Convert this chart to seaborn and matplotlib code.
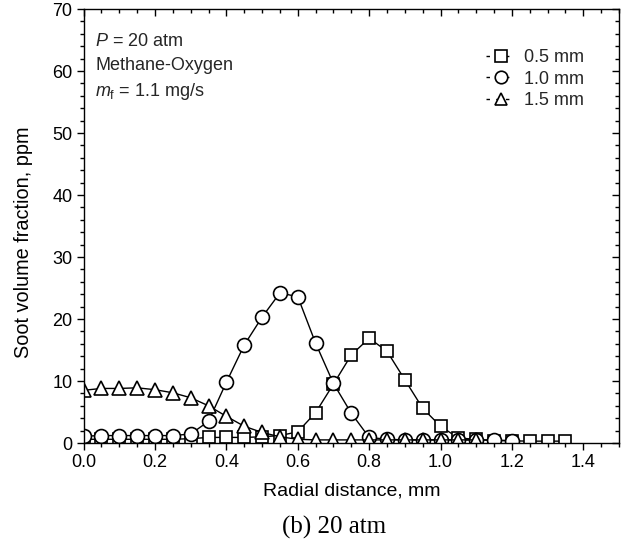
import numpy as np
import pandas as pd
import seaborn as sns
import matplotlib
matplotlib.use("Agg")
import matplotlib.pyplot as plt
from matplotlib.lines import Line2D
from matplotlib.ticker import MultipleLocator

# ---------------- data ----------------
x_05 = [0.00, 0.05, 0.10, 0.15, 0.20, 0.25, 0.30, 0.35, 0.40, 0.45, 0.50, 0.55, 0.60, 0.65,
        0.70, 0.75, 0.80, 0.85, 0.90, 0.95, 1.00, 1.05, 1.10, 1.15, 1.20, 1.25, 1.30, 1.35]
y_05 = [0.6, 0.6, 0.6, 0.6, 0.6, 0.6, 0.7, 0.9, 0.9, 0.9, 1.0, 1.2, 1.8, 4.9,
        9.5, 14.2, 16.9, 14.8, 10.2, 5.6, 2.7, 0.8, 0.6, 0.4, 0.35, 0.3, 0.3, 0.3]

x_10 = [0.00, 0.05, 0.10, 0.15, 0.20, 0.25, 0.30, 0.35, 0.40, 0.45, 0.50, 0.55, 0.60,
        0.65, 0.70, 0.75, 0.80, 0.85, 0.90, 0.95, 1.00, 1.05, 1.10, 1.15, 1.20]
y_10 = [1.1, 1.2, 1.2, 1.2, 1.2, 1.2, 1.45, 3.5, 9.8, 15.8, 20.3, 24.2, 23.6,
        16.1, 9.6, 4.8, 0.9, 0.6, 0.5, 0.5, 0.5, 0.5, 0.5, 0.45, 0.4]

x_15 = [0.00, 0.05, 0.10, 0.15, 0.20, 0.25, 0.30, 0.35, 0.40, 0.45, 0.50, 0.55,
        0.60, 0.65, 0.70, 0.75, 0.80, 0.85, 0.90, 0.95, 1.00, 1.05, 1.10]
y_15 = [8.5, 8.8, 8.8, 8.9, 8.6, 8.1, 7.3, 6.0, 4.3, 2.7, 1.7, 1.0,
        0.6, 0.5, 0.5, 0.5, 0.5, 0.5, 0.5, 0.5, 0.5, 0.5, 0.5]

series_labels = ["0.5 mm", "1.0 mm", "1.5 mm"]
series_markers = ["s", "o", "^"]
x_ticks = [0.0, 0.2, 0.4, 0.6, 0.8, 1.0, 1.2, 1.4]
y_ticks = [0, 10, 20, 30, 40, 50, 60, 70]

# ---------------- style ----------------
sns.set_theme(style="white")
plt.rcParams['font.family'] = ['Liberation Sans', 'DejaVu Sans']
plt.rcParams['mathtext.fontset'] = 'custom'
plt.rcParams['mathtext.rm'] = 'Liberation Sans'
plt.rcParams['mathtext.it'] = 'Liberation Sans:italic'

W, H = 622, 553
fig = plt.figure(figsize=(W / 100, H / 100), dpi=100)
ax = fig.add_axes([83.6 / W, 1 - 443 / H, (619 - 83.6) / W, (443 - 9) / H])

xs = [x_05, x_10, x_15]
ys = [y_05, y_10, y_15]
msizes = [8, 10, 10]
for xv, yv, lab, mk, ms in zip(xs, ys, series_labels, series_markers, msizes):
    df = pd.DataFrame({"x": xv, "y": yv})
    sns.lineplot(data=df, x="x", y="y", ax=ax, color="black", linewidth=1.0,
                 marker=mk, markersize=ms, markerfacecolor="white",
                 markeredgecolor="black", markeredgewidth=1.2,
                 sort=False, errorbar=None, legend=False)

ax.set_xlim(0, 1.5)
ax.set_ylim(0, 70)
ax.set_xticks(x_ticks)
ax.set_xticklabels([f"{v:.1f}" for v in x_ticks])
ax.set_yticks(y_ticks)
ax.xaxis.set_minor_locator(MultipleLocator(0.05))
ax.yaxis.set_minor_locator(MultipleLocator(2))
ax.tick_params(axis="both", which="major", direction="out", length=5, width=1,
               labelsize=13, colors="black", pad=3)
ax.tick_params(axis="both", which="minor", direction="out", length=3, width=1, colors="black")
ax.tick_params(axis="both", which="both", bottom=True, left=True)
for sp in ax.spines.values():
    sp.set_color("black")
    sp.set_linewidth(1.0)

secx = ax.secondary_xaxis("top")
secx.set_xticks(x_ticks)
secx.xaxis.set_minor_locator(MultipleLocator(0.05))
secx.tick_params(which="major", direction="in", length=5, width=1, labeltop=False, colors="black")
secx.tick_params(which="minor", direction="in", length=3, width=1, colors="black")
secx.spines["top"].set_visible(False)
secy = ax.secondary_yaxis("right")
secy.set_yticks(y_ticks)
secy.yaxis.set_minor_locator(MultipleLocator(2))
secy.tick_params(which="major", direction="in", length=5, width=1, labelright=False, colors="black")
secy.tick_params(which="minor", direction="in", length=3, width=1, colors="black")
secy.spines["right"].set_visible(False)

ax.set_xlabel("Radial distance, mm", fontsize=14, color="black", labelpad=8)
ax.set_ylabel("Soot volume fraction, ppm", fontsize=14.3, color="black")
ax.yaxis.set_label_coords(-0.0945, 0.463)

ax.text(0.022, 0.926, r"$P$ = 20 atm", transform=ax.transAxes, fontsize=13, va="center")
ax.text(0.022, 0.869, "Methane-Oxygen", transform=ax.transAxes, fontsize=13, va="center")
ax.text(0.022, 0.811, r"$m_{\rm f}$ = 1.1 mg/s", transform=ax.transAxes, fontsize=13, va="center")

handles = [Line2D([], [], color="black", linewidth=1.0, linestyle=(0, (2.5, 4.5)),
                  marker=mk, markersize=ms, markerfacecolor="white",
                  markeredgecolor="black", markeredgewidth=1.2)
           for mk, ms in zip(series_markers, [8, 9, 9])]
ax.legend(handles, series_labels, loc="upper right", bbox_to_anchor=(0.965, 0.945),
          frameon=False, fontsize=13, handlelength=1.6, handletextpad=0.5,
          labelspacing=0.25)

fig.text(334 / W, 1 - 527 / H, "(b) 20 atm", fontsize=18, family="Liberation Serif",
         ha="center", va="center", color="black")

fig.savefig("out.png", dpi=100)
